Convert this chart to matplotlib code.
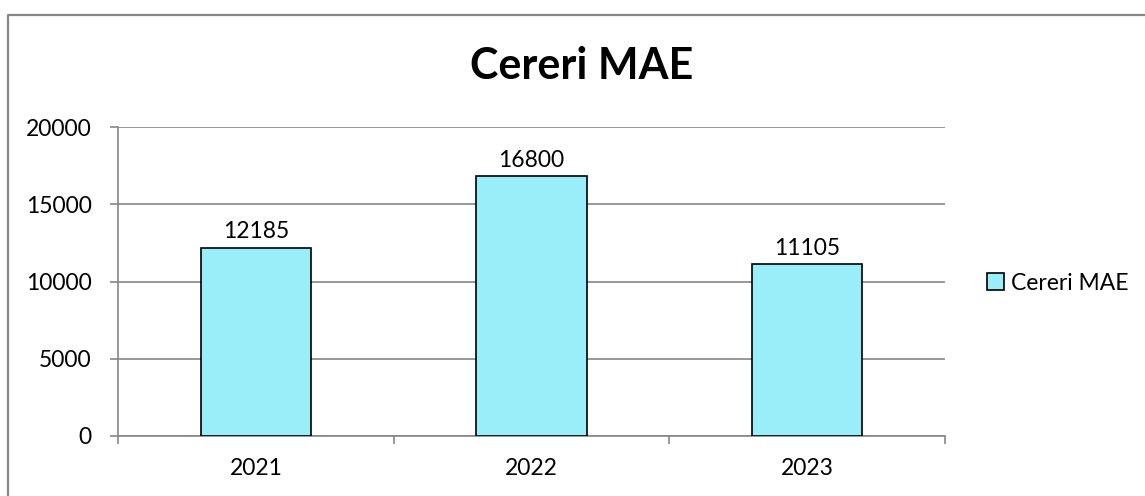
import matplotlib
matplotlib.use("Agg")
import matplotlib.pyplot as plt
from matplotlib.lines import Line2D

years = ["2021", "2022", "2023"]
values = [12185, 16800, 11105]
series_name = "Cereri MAE"
yticks = [0, 5000, 10000, 15000, 20000]

plt.rcParams['font.family'] = ['Lato', 'DejaVu Sans']

W, H = 1145, 496
fig = plt.figure(figsize=(W/100, H/100), dpi=100)
# outer chart border (only top and left visible in reference)
fig.lines.append(Line2D([8/W, 8/W, 1.0], [0.0, 1-15/H, 1-15/H],
                        transform=fig.transFigure, color='#868686', linewidth=1.6))

ax = fig.add_axes([118/W, 1-436/H, (945-118)/W, (436-127)/H])
x = list(range(len(years)))
bars = ax.bar(x, values, width=0.4, color='#99EEF9', edgecolor='black',
              linewidth=1.2, zorder=3, label=series_name)
for xi, v in zip(x, values):
    ax.text(xi, v + 350, str(v), ha='center', va='bottom', fontsize=16.5, color='black')

ax.set_xlim(-0.5, 2.5)
ax.set_ylim(0, 20000)
ax.set_yticks(yticks)
ax.set_yticklabels([str(t) for t in yticks], fontsize=16.5)
ax.yaxis.grid(True, color='#868686', linewidth=1.2, zorder=0)
ax.set_axisbelow(True)

ax.set_xticks([-0.5, 0.5, 1.5, 2.5])
ax.set_xticklabels([])
ax.set_xticks(x, minor=True)
ax.set_xticklabels(years, minor=True, fontsize=16.5)
ax.tick_params(axis='x', which='minor', length=0, pad=16)
ax.tick_params(axis='x', which='major', length=6, color='#868686', width=1.2)
ax.tick_params(axis='y', length=6, color='#868686', width=1.2, pad=13)

for s in ['top', 'right']:
    ax.spines[s].set_visible(False)
ax.spines['left'].set_color('#868686')
ax.spines['left'].set_linewidth(1.2)
ax.spines['bottom'].set_color('#868686')
ax.spines['bottom'].set_linewidth(1.2)

fig.text(582/W, 1-66/H, "Cereri MAE", ha='center', va='center',
         fontsize=31, fontweight='bold')

leg = fig.legend(handles=[bars], labels=[series_name], loc='center left',
                 bbox_to_anchor=(978/W, 1-283/H), frameon=False,
                 fontsize=16.5, handlelength=0.75, handleheight=0.75,
                 handletextpad=0.3, borderaxespad=0)

fig.savefig("out.png", dpi=100)
